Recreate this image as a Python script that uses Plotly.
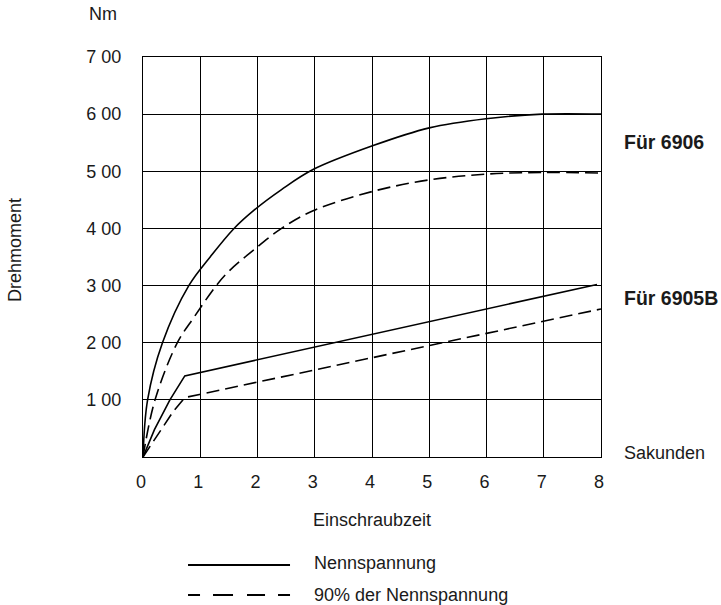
import plotly.graph_objects as go

# ---- data ----
x_ticks = [0, 1, 2, 3, 4, 5, 6, 7, 8]
y_ticks = [100, 200, 300, 400, 500, 600, 700]
y_ticktext = ["1 00", "2 00", "3 00", "4 00", "5 00", "6 00", "7 00"]

t_6906_nenn = [0, 0.08, 0.34, 0.80, 1.18, 1.59, 1.94, 2.42, 2.97, 4.02, 5.0, 5.99, 6.97, 8.0]
m_6906_nenn = [0, 100, 200, 300, 351, 400, 432, 468, 503, 545, 576, 592, 600, 600]

t_6906_90 = [0, 0.21, 0.60, 0.90, 1.28, 1.51, 1.94, 2.42, 2.97, 4.02, 5.0, 5.99, 6.97, 8.0]
m_6906_90 = [0, 100, 200, 246, 300, 326, 363, 400, 431, 465, 485, 495, 498, 497]

t_6905b_nenn = [0, 0.2, 0.47, 0.73, 7.93]
m_6905b_nenn = [0, 48, 100, 142, 302]

t_6905b_90 = [0, 0.32, 0.53, 0.73, 8.0]
m_6905b_90 = [0, 48, 80, 104, 259]

FONT = "Liberation Sans, Arial, sans-serif"
TXT = "#1a1a1a"

fig = go.Figure()
fig.add_trace(go.Scatter(x=t_6906_nenn, y=m_6906_nenn, mode="lines",
                         line=dict(color="black", width=1.6, shape="spline", smoothing=1.0)))
fig.add_trace(go.Scatter(x=t_6906_90, y=m_6906_90, mode="lines",
                         line=dict(color="black", width=1.6, dash="13px,6px", shape="spline", smoothing=1.0)))
fig.add_trace(go.Scatter(x=t_6905b_nenn, y=m_6905b_nenn, mode="lines",
                         line=dict(color="black", width=1.6)))
fig.add_trace(go.Scatter(x=t_6905b_90, y=m_6905b_90, mode="lines",
                         line=dict(color="black", width=1.6, dash="13px,6px")))

fig.update_layout(
    width=721, height=605,
    margin=dict(l=143, r=120, t=57, b=148),
    paper_bgcolor="white", plot_bgcolor="white",
    showlegend=False,
    font=dict(family=FONT, size=18, color=TXT),
    xaxis=dict(range=[0, 8], tickvals=x_ticks, showgrid=True, gridcolor="black", gridwidth=1,
               showline=True, linecolor="black", linewidth=1, mirror=True, zeroline=False,
               ticks="", ticklabelstandoff=8, ticklabelshift=-2,
               tickfont=dict(family=FONT, size=18, color=TXT)),
    yaxis=dict(range=[0, 700], tickvals=y_ticks, ticktext=y_ticktext, showgrid=True,
               gridcolor="black", gridwidth=1, showline=True, linecolor="black", linewidth=1,
               mirror=True, zeroline=False, ticks="", ticklabelstandoff=17,
               tickfont=dict(family=FONT, size=18, color=TXT)),
)

def ann(text, x, y, xanchor="left", bold=False, size=18, angle=0):
    fig.add_annotation(text=f"<b>{text}</b>" if bold else text, x=x, y=y, xref="paper", yref="paper",
                       xanchor=xanchor, yanchor="middle", showarrow=False, textangle=angle,
                       font=dict(family=FONT, size=size, color=TXT))

ann("Nm", -0.0873, 1.1075, xanchor="center")
ann("Drehmoment", -0.2795, 0.5175, xanchor="center", angle=-90)
ann("Einschraubzeit", 0.5, -0.1575, xanchor="center")
ann("Sakunden", 1.0452, 0.011)
ann("Für 6906", 1.0452, 0.788, bold=True, size=19.5)
ann("Für 6905B", 1.0452, 0.3975, bold=True, size=19.5)
ann("Nennspannung", 0.369, -0.265)
ann("90% der Nennspannung", 0.369, -0.345)

# legend samples
fig.add_shape(type="line", xref="paper", yref="paper", x0=0.0983, x1=0.321, y0=-0.27, y1=-0.27,
              line=dict(color="black", width=2))
fig.add_shape(type="line", xref="paper", yref="paper", x0=0.0983, x1=0.321, y0=-0.345, y1=-0.345,
              line=dict(color="black", width=2, dash="12px,13px,20px,14px,18px,13px,12px,40px"))

fig.write_html("out.html")
